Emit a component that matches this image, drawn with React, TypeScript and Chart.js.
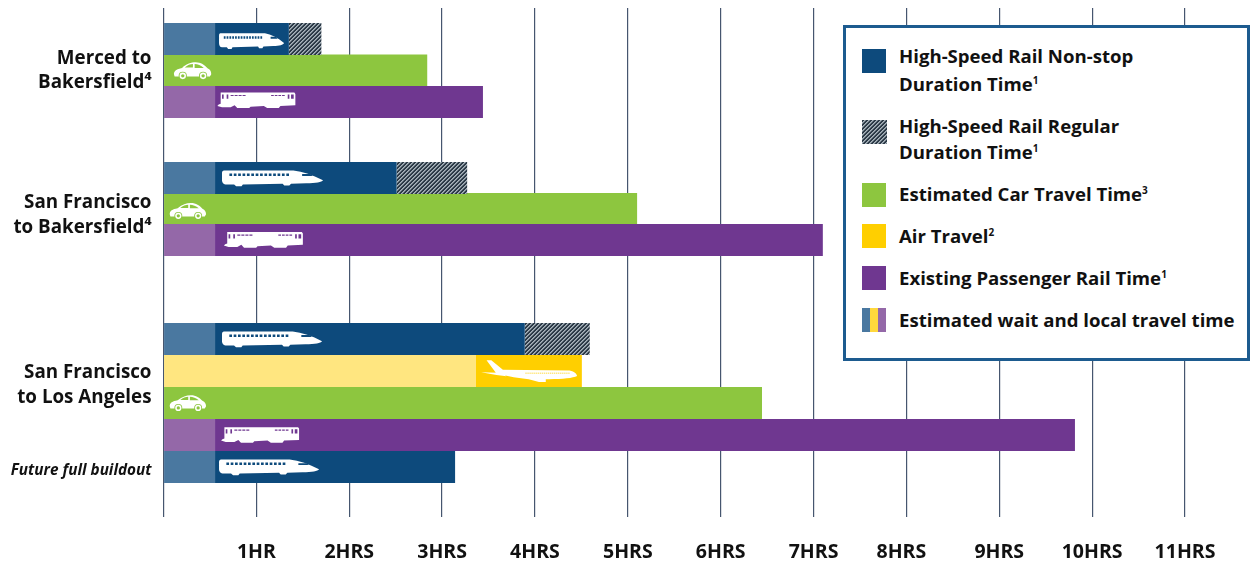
import React, { useEffect, useRef } from "react";
import { Chart, registerables } from "chart.js";

Chart.register(...registerables);

const FONT = '"Open Sans", "Noto Sans", sans-serif';

// Travel times in hours
const waitTime = 0.555;
const hsrNonstopEnd = [1.35, 2.51, 3.89, 3.14];
const hsrRegularEnd = [1.7, 3.27, 4.59];
const carEnd = [2.84, 5.1, 6.445];
const railEnd = [3.44, 7.1, 9.815];
const airWaitEnd = [3.365];
const airEnd = [4.505];

// Lanes on the vertical scale, one per bar
const hsrLanes = [0.974, 5.344, 10.405, 14.43];
const carLanes = [1.965, 6.318, 12.416];
const railLanes = [2.955, 7.293, 13.42];
const airLanes = [11.41];

// Route labels and where they sit on the vertical scale
const routeLabels: (string | string[])[] = [
  ["Merced to", "Bakersfield⁴"],
  ["San Francisco", "to Bakersfield⁴"],
  ["San Francisco", "to Los Angeles"],
  "Future full buildout",
];
const routeLabelLanes = [1.97, 6.51, 11.85, 14.55];

const hourLabels = ["", "1HR", "2HRS", "3HRS", "4HRS", "5HRS", "6HRS", "7HRS", "8HRS  ", "9HRS", "10HRS", "11HRS"];

const NAVY = "#0d4a7c";
const NAVY_WAIT = "#4a78a0";
const GREEN = "#8dc63f";
const GOLD = "#ffcf00";
const GOLD_WAIT = "#ffe680";
const PURPLE = "#6f3790";
const PURPLE_WAIT = "#9468a8";

function hatchTile(): HTMLCanvasElement {
  const tile = document.createElement("canvas");
  tile.width = 4;
  tile.height = 4;
  const ctx = tile.getContext("2d")!;
  for (let y = 0; y < 4; y++) {
    for (let x = 0; x < 4; x++) {
      const k = (x + y) % 4;
      ctx.fillStyle = k < 2 ? "#2c3a47" : k === 2 ? "#a9b4bc" : "#7f8c96";
      ctx.fillRect(x, y, 1, 1);
    }
  }
  return tile;
}

const windowRow = (from: number, count: number, step: number, y: number, w: number, h: number) => {
  let d = "";
  for (let i = 0; i < count; i++) d += `M${from + i * step} ${y}h${w}v${h}h${-w}Z`;
  return d;
};

type Glyph = { vw: number; vh: number; body: string; cut: string; wheels?: [number, number][] };

const bulletTrain: Glyph = {
  vw: 300,
  vh: 48,
  body: "M6 3L212 3C240 6 270 16 300 30C296 36 280 38 250 39L205 40L200 45L185 45L180 40L62 42L58 47L42 47L36 42L14 42C4 42 0 36 0 30L0 10C0 6 2 3 6 3Z",
  cut: windowRow(22, 14, 13, 11, 8, 7) + "M238 13L262 13L270 18L238 18Z",
};

const carGlyph: Glyph = {
  vw: 112,
  vh: 52,
  body: "M2 36C2 26 10 21 26 18C40 6 52 2 66 2C82 2 92 10 102 20C108 22 112 28 112 36L108 43L4 43Z",
  cut: "M34 17C42 10 50 7 58 7L58 17ZM63 7C72 7 82 11 90 18L63 18Z",
  wheels: [[28, 41], [88, 41]],
};

const railCar: Glyph = {
  vw: 235,
  vh: 48,
  body: "M10 2L232 2L235 6L235 38L190 40L185 46L150 46L140 40L100 42L96 46L60 46L52 38L40 44L14 44L0 40L4 36L10 34Z",
  cut:
    "M14 8h5v12h-5ZM28 8h5v12h-5Z" +
    windowRow(40, 4, 12, 9, 9, 3) +
    windowRow(162, 4, 11, 9, 8, 3) +
    "M212 8h5v12h-5ZM222 8h8v12h-8Z",
};

const planeGlyph: Glyph = {
  vw: 282,
  vh: 63,
  body: "M16 0L30 0L64 27L260 29C275 32 282 40 282 45C270 51 240 54 200 54L190 54L190 62L170 62L140 54C110 52 80 46 56 41L45 38ZM0 34L50 36L75 46L45 42Z",
  cut: windowRow(130, 22, 6, 36, 4, 2),
};

// Silhouettes drawn on top of the bars, anchored on the chart's own scales
const travelIcons: { glyph: Glyph; hour: number; lane: number; w: number; h: number; cut: string }[] = [
  { glyph: bulletTrain, hour: 0.598, lane: 1.03, w: 65, h: 17, cut: NAVY },
  { glyph: bulletTrain, hour: 0.63, lane: 5.344, w: 101, h: 17, cut: NAVY },
  { glyph: bulletTrain, hour: 0.63, lane: 10.405, w: 100, h: 17, cut: NAVY },
  { glyph: bulletTrain, hour: 0.598, lane: 14.43, w: 100, h: 17, cut: NAVY },
  { glyph: carGlyph, hour: 0.105, lane: 1.97, w: 38, h: 18, cut: GREEN },
  { glyph: carGlyph, hour: 0.06, lane: 6.38, w: 37, h: 17, cut: GREEN },
  { glyph: carGlyph, hour: 0.06, lane: 12.416, w: 37, h: 17, cut: GREEN },
  { glyph: railCar, hour: 0.58, lane: 2.9, w: 78, h: 17, cut: PURPLE },
  { glyph: railCar, hour: 0.65, lane: 7.29, w: 79, h: 17, cut: PURPLE },
  { glyph: railCar, hour: 0.62, lane: 13.42, w: 78, h: 17, cut: PURPLE },
  { glyph: planeGlyph, hour: 3.42, lane: 11.42, w: 96, h: 22, cut: GOLD },
];

const iconsPlugin = {
  id: "travelIcons",
  afterDatasetsDraw(chart: any) {
    const { ctx, scales } = chart;
    for (const ic of travelIcons) {
      const { glyph } = ic;
      const left = scales.x.getPixelForValue(ic.hour);
      const top = scales.y.getPixelForValue(ic.lane) - ic.h / 2;
      ctx.save();
      ctx.translate(left, top);
      ctx.scale(ic.w / glyph.vw, ic.h / glyph.vh);
      ctx.fillStyle = "#ffffff";
      ctx.fill(new Path2D(glyph.body));
      ctx.fillStyle = ic.cut;
      ctx.fill(new Path2D(glyph.cut));
      for (const [cx, cy] of glyph.wheels ?? []) {
        ctx.fillStyle = ic.cut;
        ctx.beginPath();
        ctx.arc(cx, cy, 12, 0, Math.PI * 2);
        ctx.fill();
        ctx.fillStyle = "#ffffff";
        ctx.beginPath();
        ctx.arc(cx, cy, 9.5, 0, Math.PI * 2);
        ctx.fill();
        ctx.fillStyle = ic.cut;
        ctx.beginPath();
        ctx.arc(cx, cy, 5, 0, Math.PI * 2);
        ctx.fill();
      }
      ctx.restore();
    }
  },
};

const spans = (lanes: number[], from: (i: number) => number, to: (i: number) => number) =>
  lanes.map((lane, i) => ({ x: [from(i), to(i)], y: lane }));

const barDefaults = {
  grouped: false,
  barPercentage: 1.04,
  categoryPercentage: 1,
  maxBarThickness: 32,
  borderWidth: 0,
};

type LegendRow = { top: number; swatch: number; lines: [string, string?][]; kind: string; leading?: number };

const legendRows: LegendRow[] = [
  { top: 42, swatch: 49, kind: "navy", leading: 28, lines: [["High-Speed Rail Non-stop"], ["Duration Time", "1"]] },
  { top: 113, swatch: 120, kind: "hatch", lines: [["High-Speed Rail Regular"], ["Duration Time", "1"]] },
  { top: 181, swatch: 183, kind: "green", lines: [["Estimated Car Travel Time", "3"]] },
  { top: 223, swatch: 224, kind: "gold", lines: [["Air Travel", "2"]] },
  { top: 265, swatch: 266, kind: "purple", lines: [["Existing Passenger Rail Time", "1"]] },
  { top: 307, swatch: 308, kind: "wait", lines: [["Estimated wait and local travel time"]] },
];

export default function App() {
  const ref = useRef<HTMLCanvasElement>(null);
  const tile = useRef<HTMLCanvasElement | null>(null);
  if (!tile.current && typeof document !== "undefined") tile.current = hatchTile();

  useEffect(() => {
    const ctx = ref.current!.getContext("2d")!;
    const hatch = ctx.createPattern(tile.current!, "repeat")!;
    const chart = new Chart(ctx, {
      type: "bar",
      plugins: [iconsPlugin],
      data: {
        datasets: [
          { ...barDefaults, label: "HSR wait", backgroundColor: NAVY_WAIT, data: spans(hsrLanes, () => 0, () => waitTime), order: 1 },
          { ...barDefaults, label: "High-Speed Rail Non-stop", backgroundColor: NAVY, data: spans(hsrLanes, () => waitTime, (i) => hsrNonstopEnd[i]), order: 1 },
          { ...barDefaults, label: "High-Speed Rail Regular", backgroundColor: hatch, data: spans(hsrLanes.slice(0, 3), (i) => hsrNonstopEnd[i], (i) => hsrRegularEnd[i]), order: 1 },
          { ...barDefaults, label: "Air wait", backgroundColor: GOLD_WAIT, data: spans(airLanes, () => 0, (i) => airWaitEnd[i]), order: 2 },
          { ...barDefaults, label: "Air Travel", backgroundColor: GOLD, data: spans(airLanes, (i) => airWaitEnd[i], (i) => airEnd[i]), order: 2 },
          { ...barDefaults, label: "Rail wait", backgroundColor: PURPLE_WAIT, data: spans(railLanes, () => 0, () => waitTime), order: 1 },
          { ...barDefaults, label: "Existing Passenger Rail", backgroundColor: PURPLE, data: spans(railLanes, () => waitTime, (i) => railEnd[i]), order: 1 },
          { ...barDefaults, label: "Estimated Car Travel", backgroundColor: GREEN, data: spans(carLanes, () => 0, (i) => carEnd[i]), order: 3 },
        ] as any,
      },
      options: {
        indexAxis: "y",
        responsive: false,
        animation: false,
        layout: { padding: { top: 8, right: 69, left: 0, bottom: 0 } },
        plugins: { legend: { display: false }, tooltip: { enabled: false } },
        scales: {
          x: {
            type: "linear",
            position: "bottom",
            min: 0,
            max: 11,
            border: { display: false },
            grid: { color: "#46566f", lineWidth: 1.2, drawTicks: false },
            afterFit: (scale: any) => {
              scale.height = 46;
            },
            ticks: {
              stepSize: 1,
              autoSkip: false,
              maxRotation: 0,
              padding: 24,
              color: "#111111",
              font: { family: FONT, weight: "bold", size: 19.5 },
              callback: (v: any) => hourLabels[v],
            },
          },
          y: {
            type: "linear",
            reverse: true,
            offset: false,
            min: 0,
            max: 16,
            border: { display: false },
            grid: { display: false, drawTicks: false, offset: false },
            afterBuildTicks: (scale: any) => {
              scale.ticks = routeLabelLanes.map((value) => ({ value }));
            },
            afterFit: (scale: any) => {
              scale.width = 163.5;
              // The route labels sit well inside the plot, so no overhang is needed
              scale.paddingTop = 0;
              scale.paddingBottom = 0;
            },
            ticks: {
              autoSkip: false,
              padding: 12,
              color: "#111111",
              font: (c: any) =>
                c.index === 3
                  ? { family: FONT, weight: "bold", style: "italic", size: 15.3, lineHeight: 1.3 }
                  : { family: FONT, weight: "bold", size: 18.8, lineHeight: 1.3 },
              callback: (_v: any, i: number) => routeLabels[i],
            },
          },
        },
      } as any,
    });
    return () => chart.destroy();
  }, []);

  const swatchStyle = (kind: string, top: number): React.CSSProperties => {
    const base: React.CSSProperties = { position: "absolute", left: 862 - 843 - 3, top: top - 25 - 3, width: 24, height: 24 };
    switch (kind) {
      case "navy":
        return { ...base, background: NAVY };
      case "hatch":
        return { ...base, width: 25, backgroundImage: `url(${tile.current?.toDataURL()})` };
      case "green":
        return { ...base, background: GREEN };
      case "gold":
        return { ...base, background: GOLD };
      case "purple":
        return { ...base, background: PURPLE };
      default:
        return {
          ...base,
          background: `linear-gradient(90deg, ${NAVY_WAIT} 0 8px, #ffd83d 8px 16px, ${PURPLE_WAIT} 16px 24px)`,
        };
    }
  };

  return (
    <div style={{ position: "absolute", left: 0, top: 0, width: 1254, height: 563, background: "#fff", overflow: "hidden" }}>
      <canvas ref={ref} width={1254} height={563} style={{ display: "block" }} />
      <div
        style={{
          position: "absolute",
          left: 843,
          top: 25,
          width: 407,
          height: 336,
          boxSizing: "border-box",
          border: "3px solid #1d5b8f",
          background: "#fff",
          fontFamily: FONT,
          fontWeight: 700,
          fontSize: 18.6,
          color: "#111",
          lineHeight: "26px",
        }}
      >
        {legendRows.map((row) => (
          <React.Fragment key={row.lines[0][0]}>
            <div style={swatchStyle(row.kind, row.swatch)} />
            <div
              style={{
                position: "absolute",
                left: 899 - 843 - 3,
                top: row.top - 25 - 3,
                whiteSpace: "nowrap",
                lineHeight: `${row.leading ?? 26}px`,
              }}
            >
              {row.lines.map(([text, note], i) => (
                <div key={i}>
                  {text}
                  {note ? <sup style={{ fontSize: 10, lineHeight: 0 }}>{note}</sup> : null}
                </div>
              ))}
            </div>
          </React.Fragment>
        ))}
      </div>
    </div>
  );
}
